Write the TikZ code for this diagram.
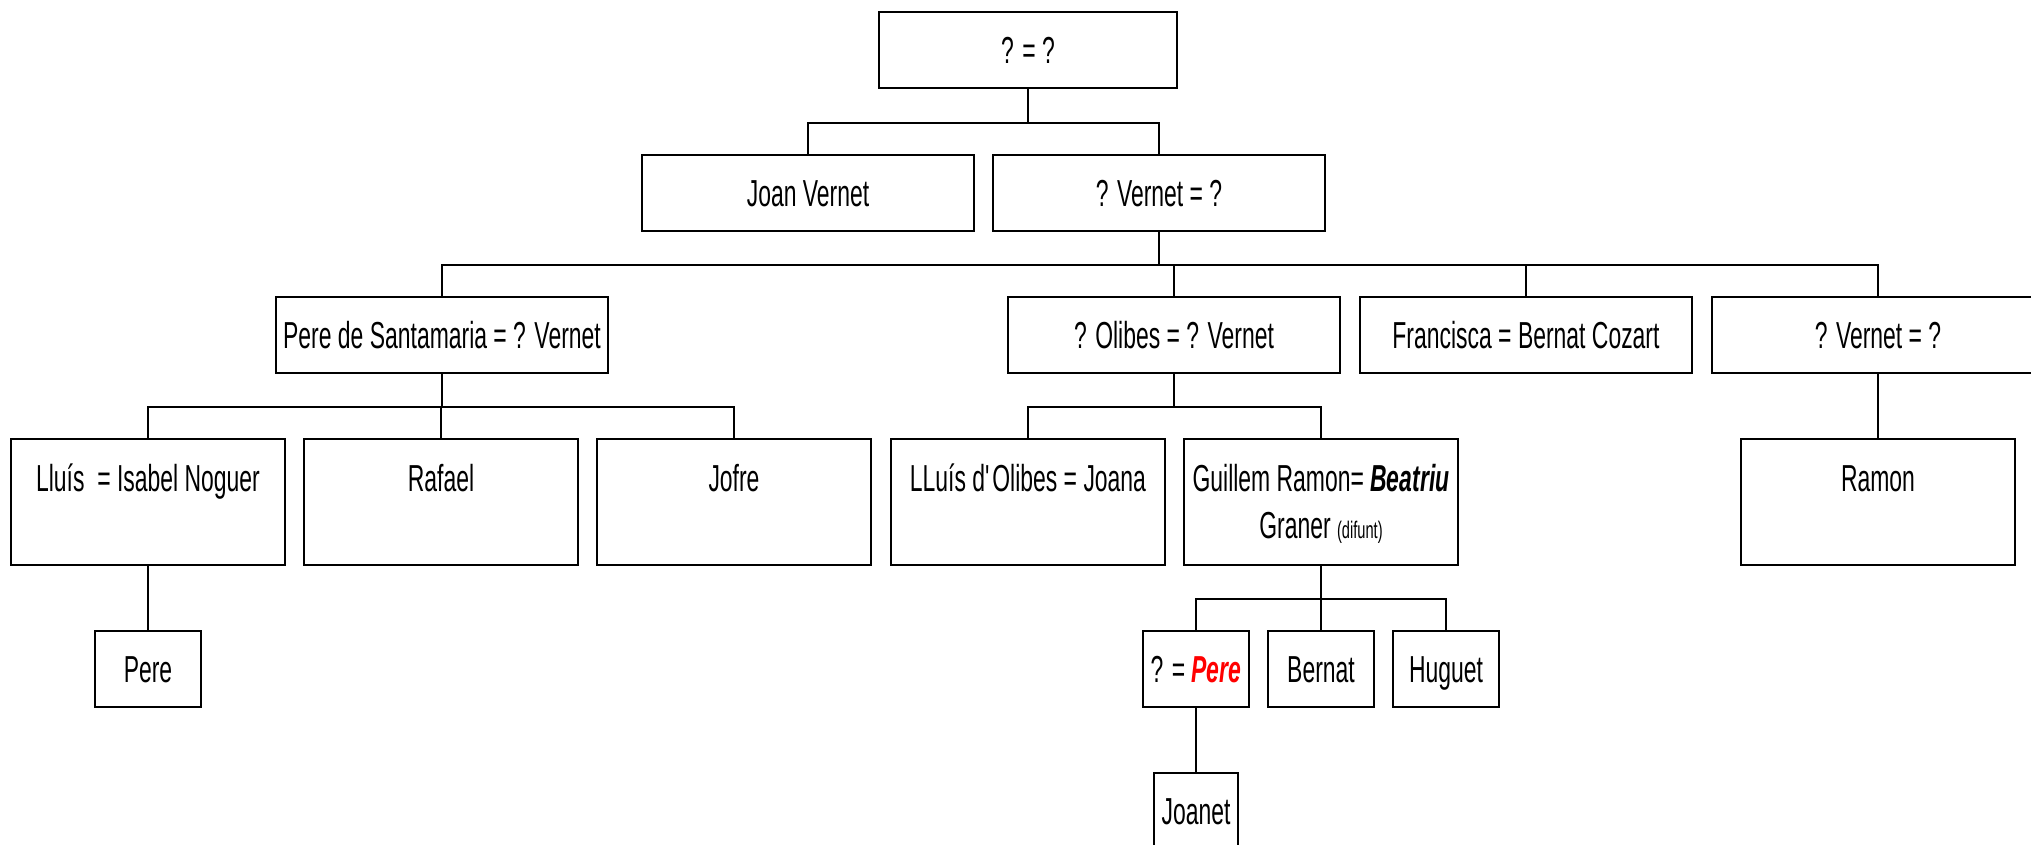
\documentclass[tikz,border=0pt]{standalone}
\usepackage{fontspec}
\setmainfont{Liberation Sans}[FakeStretch=0.61]
\usepackage{tikz}
\newcommand{\rowh}{38pt}

\begin{document}
\begin{tikzpicture}[x=0.5pt, y=-0.5pt, font=\fontsize{18.8}{24}\selectfont,
    box/.style={draw, rectangle, line width=1.1pt, minimum height=\rowh, inner sep=0pt, text height=13.5pt, text depth=0pt},
    wide/.style={box, minimum width=166pt},
    tall/.style={box, minimum width=137pt, text height=26pt, text depth=37pt},
    small/.style={box, minimum width=53pt},
    link/.style={line width=0.8pt}]
    \clip (0,0) rectangle (2031,845);

    % First row
    \node[box, minimum width=149pt] (root) at (1028,50) {? = ?};

    % Second row
    \node[wide] (joan) at (808,193) {Joan Vernet};
    \node[wide] (vernet-a) at (1159,193) {? Vernet = ?};

    % Third row
    \node[wide] (santamaria) at (442,335) {Pere de Santamaria = ? Vernet};
    \node[wide] (olibes) at (1174,335) {? Olibes = ? Vernet};
    \node[wide] (francisca) at (1526,335) {Francisca = Bernat Cozart};
    \node[wide] (vernet-b) at (1878,335) {? Vernet = ?};

    % Fourth row
    \node[tall] (lluis) at (148,502) {Lluís~ = Isabel Noguer};
    \node[tall] (rafael) at (441,502) {Rafael};
    \node[tall] (jofre) at (734,502) {Jofre};
    \node[tall] (lluis-olibes) at (1028,502) {LLuís d\textquotesingle Olibes = Joana};
    \node[tall] (guillem) at (1321,502) {\begin{tabular}[t]{@{}c@{}}Guillem Ramon= \textbf{\textit{Beatriu}}\\ Graner {\fontsize{12}{12}\selectfont (difunt)}\end{tabular}};
    \node[tall] (ramon) at (1878,502) {Ramon};

    % Fifth row
    \node[small] (pere-a) at (148,669) {Pere};
    \node[small] (pere-b) at (1196,669) {? = \textcolor{red}{\textbf{\textit{Pere}}}};
    \node[small] (bernat) at (1321,669) {Bernat};
    \node[small] (huguet) at (1446,669) {Huguet};

    % Sixth row
    \node[box, minimum width=42pt] (joanet) at (1196,811) {Joanet};

    % Lines
    \foreach \n in {joan, vernet-a}
        \draw[link] (root.south) -- ++(0,34) -| (\n.north);
    \foreach \n in {santamaria, olibes, francisca, vernet-b}
        \draw[link] (vernet-a.south) -- ++(0,33) -| (\n.north);
    \foreach \n in {lluis, rafael, jofre}
        \draw[link] (santamaria.south) -- ++(0,33) -| (\n.north);
    \foreach \n in {lluis-olibes, guillem}
        \draw[link] (olibes.south) -- ++(0,33) -| (\n.north);
    \foreach \n in {pere-b, bernat, huguet}
        \draw[link] (guillem.south) -- ++(0,33) -| (\n.north);
    \draw[link] (vernet-b) -- (ramon);
    \draw[link] (lluis) -- (pere-a);
    \draw[link] (pere-b) -- (joanet);

\end{tikzpicture}
\end{document}
